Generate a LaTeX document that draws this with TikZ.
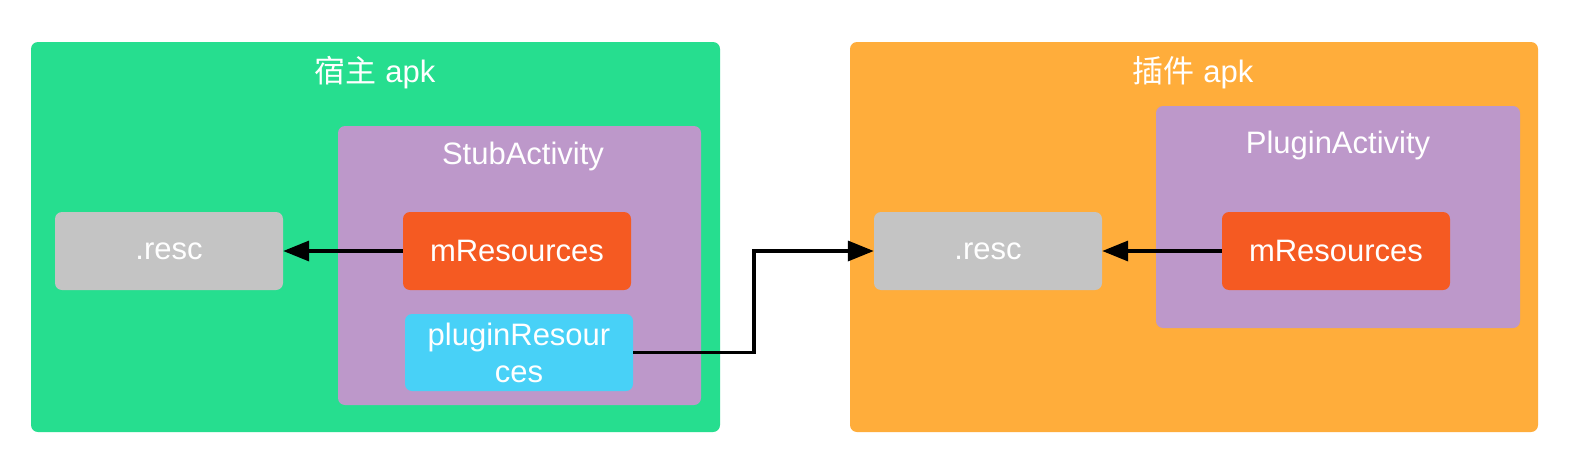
\documentclass[tikz,border=0pt]{standalone}
\usepackage{fontspec}
\setmainfont{Liberation Sans}
\newfontfamily\cjk{Noto Sans CJK SC}
\usetikzlibrary{arrows.meta}
\definecolor{cgreen}{HTML}{26DE8F}
\definecolor{cpurple}{HTML}{BD98CA}
\definecolor{cred}{HTML}{F55A22}
\definecolor{ccyan}{HTML}{48D1F7}
\definecolor{cgray}{HTML}{C4C4C4}
\definecolor{corange}{HTML}{FFAD3B}
\tikzset{
  box/.style={rounded corners=7pt, minimum width=228pt, minimum height=78pt, inner sep=0pt, text=white, font=\fontsize{31}{37}\selectfont, align=center},
  lbl/.style={text=white, font=\fontsize{31}{37}\selectfont, inner sep=0pt},
  conn/.style={line width=3.5pt, -{Triangle[length=26pt,width=20pt]}}
}
\begin{document}
\begin{tikzpicture}[x=1pt,y=-1pt]
\useasboundingbox (0,0) rectangle (1591,474);
\fill[white] (0,0) rectangle (1591,474);
% left panel
\fill[cgreen, rounded corners=7pt] (31,42) rectangle (720,432);
\node[lbl] (hosttitle) at (375,73) {{\cjk 宿主} apk};
\fill[cpurple, rounded corners=7pt] (338,126) rectangle (701,405);
\node[lbl] (stub) at (523,156) {StubActivity};
\node[box, fill=cgray] (resc1) at (169,251) {.resc};
\node[box, fill=cred] (mres1) at (517,251) {mResources};
\node[box, fill=ccyan, minimum height=77pt] (plug) at (519,352.5) {pluginResour\\ces};
% right panel
\fill[corange, rounded corners=7pt] (850,42) rectangle (1538,432);
\node[lbl] (plugtitle) at (1193,73) {{\cjk 插件} apk};
\fill[cpurple, rounded corners=7pt] (1156,106) rectangle (1520,328);
\node[lbl] (pact) at (1338,145) {PluginActivity};
\node[box, fill=cgray] (resc2) at (988,251) {.resc};
\node[box, fill=cred] (mres2) at (1336,251) {mResources};
% connectors
\draw[conn] (mres1.west) -- (resc1.east);
\draw[conn] (mres2.west) -- (resc2.east);
\coordinate (bend) at (754,352.5);
\draw[conn, line join=miter] (plug.east) -- (bend) |- (resc2.west);
\end{tikzpicture}
\end{document}
